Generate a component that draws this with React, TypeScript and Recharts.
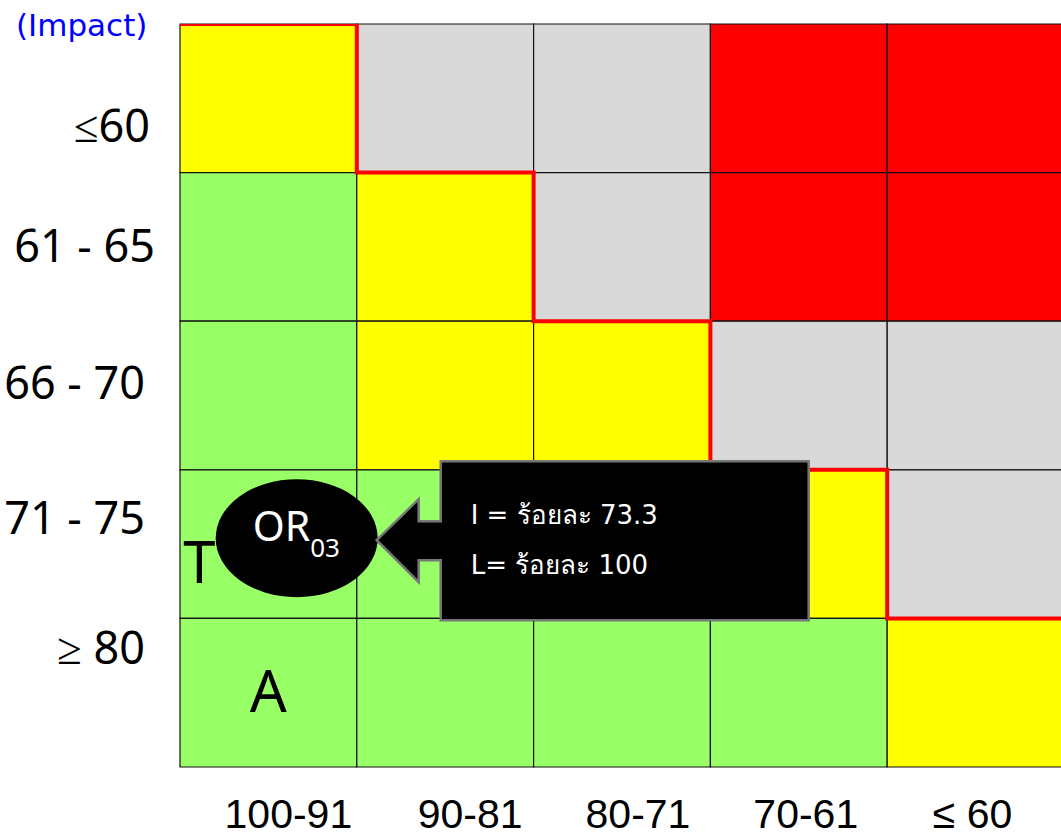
import React from "react";
import {
  ComposedChart,
  XAxis,
  YAxis,
  ReferenceArea,
  Line,
  Scatter,
} from "recharts";

// ---- data ----
const impactLabels = ["≤60", "61 - 65", "66 - 70", "71 - 75", "≥ 80"]; // top -> bottom
const likelihoodLabels = ["100-91", "90-81", "80-71", "70-61", "≤ 60"]; // left -> right
const row0 = ["Y", "S", "S", "R", "R"];
const row1 = ["G", "Y", "S", "R", "R"];
const row2 = ["G", "Y", "Y", "S", "S"];
const row3 = ["G", "G", "Y", "Y", "S"];
const row4 = ["G", "G", "G", "G", "Y"];
const levelRows = [row0, row1, row2, row3, row4];
const boundaryX = [0, 1, 1, 2, 2, 3, 3, 4, 4, 5];
const boundaryY = [5, 5, 4, 4, 3, 3, 2, 2, 1, 1];
const riskMarker = [{ x: 0.66, y: 1.54, name: "OR", sub: "03" }];
const calloutLines = ["I = ร้อยละ 73.3", "L= ร้อยละ 100"];
const letterMarks = [
  { x: 0.11, y: 1.39, text: "T" },
  { x: 0.5, y: 0.52, text: "A" },
];
const titleText = "(Impact)";

// ---- styles ----
const COLORS: Record<string, string> = {
  Y: "#FFFF00",
  S: "#D9D9D9",
  R: "#FF0000",
  G: "#99FF66",
};
const xLabelDx = [20, 25, 16, 7, -3];
const yLabelRight = [150, 155, 145, 145, 145];
const yLabelDy = [26, -2, -14, -28, -46];

const cells: { x1: number; x2: number; y1: number; y2: number; fill: string }[] = [];
levelRows.forEach((row, r) =>
  row.forEach((lv, c) =>
    cells.push({ x1: c, x2: c + 1, y1: 4 - r, y2: 5 - r, fill: COLORS[lv] })
  )
);
const boundary = boundaryX.map((x, i) => ({ x, y: boundaryY[i] }));

const XTick = (props: any) => {
  const { x, y, payload } = props;
  const i = Math.round(payload.value - 0.5);
  return (
    <text
      x={x + xLabelDx[i]}
      y={y + 39}
      textAnchor="middle"
      dominantBaseline="central"
      fontFamily="Liberation Sans"
      fontSize={41}
      fill="#000"
    >
      {likelihoodLabels[i]}
    </text>
  );
};

const YTick = (props: any) => {
  const { y, payload } = props;
  const r = Math.round(4.5 - payload.value);
  return (
    <text
      x={yLabelRight[r]}
      y={y + yLabelDy[r]}
      textAnchor="end"
      dominantBaseline="central"
      fontFamily="Noto Sans"
      fontSize={45}
      fill="#000"
    >
      {impactLabels[r]}
    </text>
  );
};

const MarkerShape = (props: any) => {
  const { cx, cy, payload } = props;
  if (cx == null || cy == null) return <g />;
  const tipX = cx + 80;
  const tipY = cy + 2;
  const stemX = tipX + 42;
  const boxX = tipX + 64;
  const pts = [
    [tipX, tipY],
    [stemX, tipY - 41],
    [stemX, tipY - 19],
    [boxX, tipY - 19],
    [boxX, tipY - 79],
    [boxX + 368, tipY - 79],
    [boxX + 368, tipY + 80],
    [boxX, tipY + 80],
    [boxX, tipY + 20],
    [stemX, tipY + 20],
    [stemX, tipY + 42],
  ]
    .map((p) => p.join(","))
    .join(" ");
  return (
    <g>
      <ellipse cx={cx} cy={cy} rx={81} ry={59} fill="#000" />
      <text
        x={cx - 44}
        y={cy - 13}
        fontFamily="Noto Sans"
        fontSize={41}
        fill="#fff"
        dominantBaseline="central"
      >
        {payload.name}
        <tspan fontSize={26} dy={22}>
          {payload.sub}
        </tspan>
      </text>
      <polygon points={pts} fill="#000" stroke="#777" strokeWidth={2.5} />
      {calloutLines.map((t, i) => (
        <text
          key={i}
          x={boxX + 30}
          y={tipY - 25 + i * 50}
          fontFamily="'DejaVu Sans', 'Noto Sans'"
          fontSize={26}
          fill="#fff"
          dominantBaseline="central"
        >
          {t}
        </text>
      ))}
    </g>
  );
};

const LetterShape = (props: any) => {
  const { cx, cy, payload } = props;
  if (cx == null || cy == null) return <g />;
  return (
    <text
      x={cx}
      y={cy}
      textAnchor="middle"
      dominantBaseline="central"
      fontFamily="Noto Sans"
      fontSize={58}
      fill="#000"
    >
      {payload.text}
    </text>
  );
};

export default function App() {
  return (
    <div
      style={{
        position: "absolute",
        left: 0,
        top: 0,
        width: 1061,
        height: 836,
        overflow: "hidden",
        background: "#fff",
      }}
    >
      <div
        style={{
          position: "absolute",
          left: 16,
          top: 4,
          fontFamily: "DejaVu Sans",
          fontSize: 31,
          color: "#0000FF",
          lineHeight: "42px",
        }}
      >
        {titleText}
      </div>
      <ComposedChart
        width={1064}
        height={836}
        margin={{ top: 24, right: 0, bottom: 0, left: 0 }}
      >
        <XAxis
          type="number"
          dataKey="x"
          domain={[0, 5]}
          ticks={[0.5, 1.5, 2.5, 3.5, 4.5]}
          interval={0}
          height={69}
          axisLine={false}
          tickLine={false}
          tick={<XTick />}
          allowDataOverflow
        />
        <YAxis
          type="number"
          dataKey="y"
          domain={[0, 5]}
          ticks={[0.5, 1.5, 2.5, 3.5, 4.5]}
          interval={0}
          width={180}
          axisLine={false}
          tickLine={false}
          tick={<YTick />}
          allowDataOverflow
        />
        {cells.map((c, i) => (
          <ReferenceArea
            key={i}
            x1={c.x1}
            x2={c.x2}
            y1={c.y1}
            y2={c.y2}
            fill={c.fill}
            fillOpacity={1}
            stroke="#111"
            strokeWidth={1.2}
            ifOverflow="visible"
          />
        ))}
        <Line
          data={boundary}
          dataKey="y"
          type="linear"
          stroke="#FF0000"
          strokeWidth={4}
          dot={false}
          isAnimationActive={false}
        />
        <Scatter
          data={letterMarks}
          dataKey="y"
          shape={<LetterShape />}
          isAnimationActive={false}
        />
        <Scatter
          data={riskMarker}
          dataKey="y"
          shape={<MarkerShape />}
          isAnimationActive={false}
        />
      </ComposedChart>
    </div>
  );
}
